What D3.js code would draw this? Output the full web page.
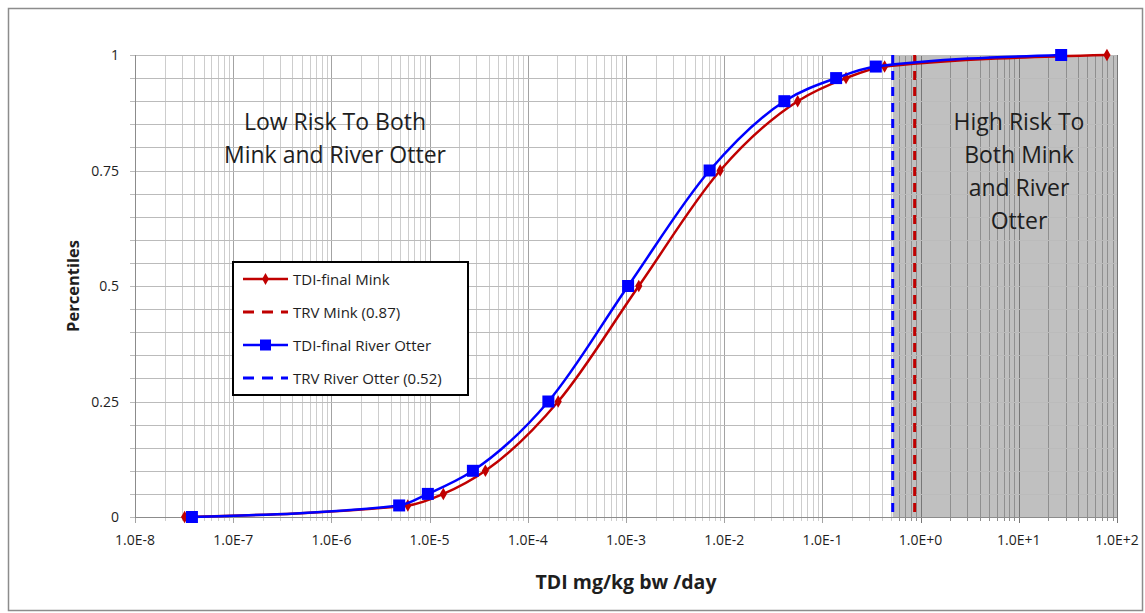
<!DOCTYPE html>
<html>
<head>
<meta charset="utf-8">
<script src="https://cdn.jsdelivr.net/npm/d3@7"></script>
<style>
  body { margin: 0; background: #fff; }
  svg { display: block; font-family: "Open Sans", "Noto Sans", sans-serif; }
</style>
</head>
<body>
<svg id="chart" width="1145" height="613"></svg>
<script>
// percentile levels shared by both series
const percentiles = [0, 0.025, 0.05, 0.1, 0.25, 0.5, 0.75, 0.9, 0.95, 0.975, 1];
// TDI values (mg/kg bw/day)
const minkTDI  = [3.2e-8, 6.0e-6, 1.38e-5, 3.7e-5, 2.04e-4, 1.35e-3, 9.1e-3, 0.056, 0.174, 0.43, 79];
const otterTDI = [3.8e-8, 4.9e-6, 9.6e-6, 2.76e-5, 1.62e-4, 1.05e-3, 7.1e-3, 0.041, 0.138, 0.35, 27];
const trvMink = 0.87;
const trvOtter = 0.52;
const xTickLabels = ["1.0E-8","1.0E-7","1.0E-6","1.0E-5","1.0E-4","1.0E-3","1.0E-2","1.0E-1","1.0E+0","1.0E+1","1.0E+2"];
const yTicks = [0, 0.25, 0.5, 0.75, 1];
const legendItems = ["TDI-final Mink", "TRV Mink (0.87)", "TDI-final River Otter", "TRV River Otter (0.52)"];

const red = "#c00000", blue = "#0000ff", ink = "#1e1e1e";
const svg = d3.select("#chart");

// outer chart border
svg.append("rect")
  .attr("x", 8.5).attr("y", 8.5).attr("width", 1134).attr("height", 602)
  .attr("fill", "none").attr("stroke", "#8c8c8c").attr("stroke-width", 1.5);

const x = d3.scaleLog().domain([1e-8, 1e2]).range([135, 1117]);
const y = d3.scaleLinear().domain([0, 1]).range([517, 55]);

// high risk shading
svg.append("rect")
  .attr("x", x(trvOtter)).attr("y", y(1))
  .attr("width", x(1e2) - x(trvOtter)).attr("height", y(0) - y(1))
  .attr("fill", "#c0c0c0");

// grid
const grid = svg.append("g");
const minorX = [];
for (let e = -8; e < 2; e++) for (let k = 2; k <= 9; k++) minorX.push(k * Math.pow(10, e));
const majorX = d3.range(-8, 3).map(e => Math.pow(10, e));
grid.selectAll(".mx").data(minorX).enter().append("line")
  .attr("x1", d => Math.round(x(d)) + 0.5).attr("x2", d => Math.round(x(d)) + 0.5)
  .attr("y1", y(1)).attr("y2", y(0) + 4)
  .attr("stroke", d => d > trvOtter ? "#8f8f8f" : "#cdcdcd").attr("stroke-width", 1);
grid.selectAll(".Mx").data(majorX).enter().append("line")
  .attr("x1", d => Math.round(x(d)) + 0.5).attr("x2", d => Math.round(x(d)) + 0.5)
  .attr("y1", y(1)).attr("y2", y(0) + 6)
  .attr("stroke", d => d > trvOtter ? "#777" : "#a3a3a3").attr("stroke-width", 1);
const hLines = d3.range(0, 1.0001, 0.05);
grid.selectAll(".hy").data(hLines).enter().append("line")
  .attr("x1", x(1e-8) - 5).attr("x2", x(1e2))
  .attr("y1", d => Math.round(y(d)) + 0.5).attr("y2", d => Math.round(y(d)) + 0.5)
  .attr("stroke", "#bbbbbb").attr("stroke-width", 1);
// axis lines
grid.append("line").attr("x1", x(1e-8)).attr("x2", x(1e2))
  .attr("y1", y(0) + 0.5).attr("y2", y(0) + 0.5).attr("stroke", "#8c8c8c");
grid.append("line").attr("x1", x(1e-8) + 0.5).attr("x2", x(1e-8) + 0.5)
  .attr("y1", y(1)).attr("y2", y(0)).attr("stroke", "#8c8c8c");

// tick labels
svg.append("g").selectAll("text").data(majorX).enter().append("text")
  .attr("x", d => x(d)).attr("y", 545)
  .attr("text-anchor", "middle").attr("font-size", 14).attr("fill", ink)
  .text((d, i) => xTickLabels[i]);
svg.append("g").selectAll("text").data(yTicks).enter().append("text")
  .attr("x", 119).attr("y", d => y(d) + 5)
  .attr("text-anchor", "end").attr("font-size", 14).attr("fill", ink)
  .text(d => d);

// axis titles
svg.append("text").attr("x", 626).attr("y", 589).attr("text-anchor", "middle")
  .attr("font-size", 19.5).attr("font-weight", "bold").attr("fill", ink)
  .text("TDI mg/kg bw /day");
svg.append("text").attr("transform", "translate(79,286) rotate(-90)")
  .attr("text-anchor", "middle").attr("font-size", 16.5).attr("font-weight", "bold").attr("fill", ink)
  .text("Percentiles");

// TRV dashed lines
[[trvOtter, blue], [trvMink, red]].forEach(([v, c]) => {
  svg.append("line").attr("x1", x(v)).attr("x2", x(v))
    .attr("y1", y(1)).attr("y2", y(0))
    .attr("stroke", c).attr("stroke-width", 3).attr("stroke-dasharray", "9,7");
});

// smoothed series
const line = d3.line().curve(d3.curveMonotoneX);
const minkPts = minkTDI.map((v, i) => [x(v), y(percentiles[i])]);
const otterPts = otterTDI.map((v, i) => [x(v), y(percentiles[i])]);

svg.append("path").attr("d", line(minkPts)).attr("fill", "none")
  .attr("stroke", red).attr("stroke-width", 2.5);
svg.append("g").selectAll("path").data(minkPts).enter().append("path")
  .attr("d", d3.symbol(d3.symbolDiamond, 45)())
  .attr("transform", d => `translate(${d[0]},${d[1]})`)
  .attr("fill", red);

svg.append("path").attr("d", line(otterPts)).attr("fill", "none")
  .attr("stroke", blue).attr("stroke-width", 2.5);
svg.append("g").selectAll("rect").data(otterPts).enter().append("rect")
  .attr("x", d => d[0] - 6).attr("y", d => d[1] - 6)
  .attr("width", 12).attr("height", 12).attr("fill", blue);

// annotations
const noteLeft = ["Low Risk To Both", "Mink and River Otter"];
const noteRight = ["High Risk To", "Both Mink", "and River", "Otter"];
svg.append("g").selectAll("text").data(noteLeft).enter().append("text")
  .attr("x", 335).attr("y", (d, i) => 130 + i * 33)
  .attr("text-anchor", "middle").attr("font-size", 23).attr("fill", ink)
  .text(d => d);
svg.append("g").selectAll("text").data(noteRight).enter().append("text")
  .attr("x", 1019).attr("y", (d, i) => 130 + i * 33)
  .attr("text-anchor", "middle").attr("font-size", 23).attr("fill", ink)
  .text(d => d);

// legend
const lg = svg.append("g");
lg.append("rect").attr("x", 233).attr("y", 262).attr("width", 235).attr("height", 133)
  .attr("fill", "#fff").attr("stroke", "#000").attr("stroke-width", 2);
const lgColors = [red, red, blue, blue];
legendItems.forEach((t, i) => {
  const ly = 279 + i * 33;
  const dashed = i % 2 === 1;
  lg.append("line").attr("x1", 243).attr("x2", 288).attr("y1", ly).attr("y2", ly)
    .attr("stroke", lgColors[i]).attr("stroke-width", dashed ? 3 : 2.5)
    .attr("stroke-dasharray", dashed ? "11,8" : null);
  if (i === 0) {
    lg.append("path").attr("d", d3.symbol(d3.symbolDiamond, 40)())
      .attr("transform", `translate(265.5,${ly})`).attr("fill", red);
  }
  if (i === 2) {
    lg.append("rect").attr("x", 260).attr("y", ly - 5.5).attr("width", 11).attr("height", 11)
      .attr("fill", blue);
  }
  lg.append("text").attr("x", 293).attr("y", ly + 5.5).attr("font-size", 15).attr("fill", ink)
    .text(t);
});
</script>
</body>
</html>
